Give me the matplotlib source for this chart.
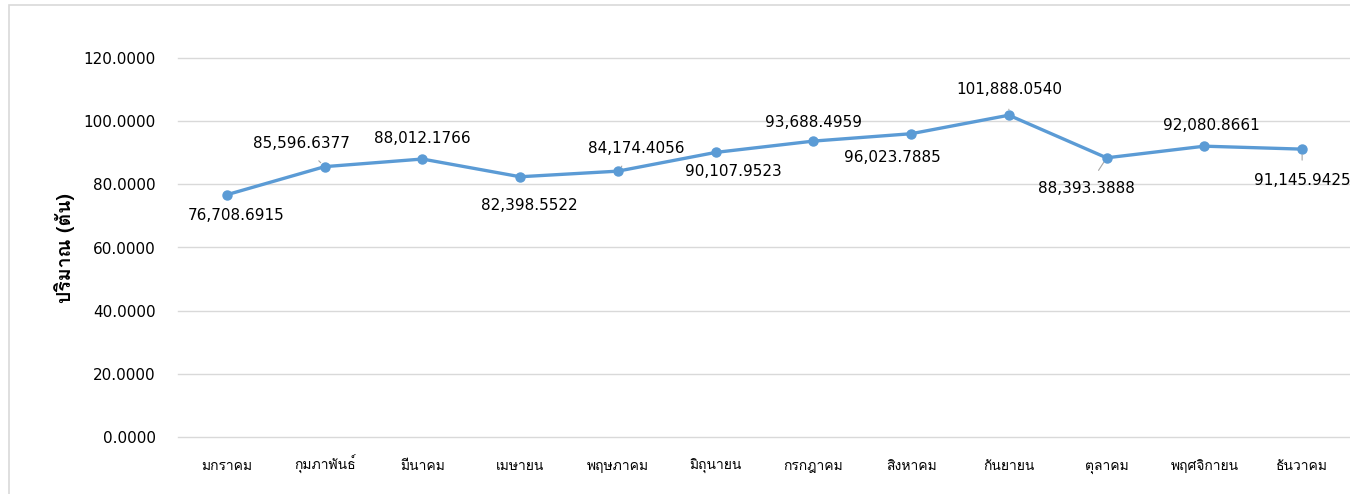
import matplotlib
matplotlib.use("Agg")
import matplotlib.pyplot as plt
from matplotlib import font_manager
from matplotlib.ft2font import FT2Font
from matplotlib.patches import Rectangle

months = ["มกราคม", "กุมภาพันธ์", "มีนาคม", "เมษายน", "พฤษภาคม", "มิถุนายน",
          "กรกฎาคม", "สิงหาคม", "กันยายน", "ตุลาคม", "พฤศจิกายน", "ธันวาคม"]
values = [76708.6915, 85596.6377, 88012.1766, 82398.5522, 84174.4056, 90107.9523,
          93688.4959, 96023.7885, 101888.0540, 88393.3888, 92080.8661, 91145.9425]
ylabel = "ปริมาณ (ตัน)"
yticks = [0, 20, 40, 60, 80, 100, 120]

# find a font that has Thai glyphs
thai_font = None
for f in font_manager.fontManager.ttflist:
    try:
        cm = FT2Font(f.fname).get_charmap()
        if 0x0E01 in cm and 0x0E21 in cm:
            thai_font = f.name
            break
    except Exception:
        pass
thai_fams = [thai_font or "DejaVu Sans", "DejaVu Sans"]
plt.rcParams["font.family"] = ["DejaVu Sans"] + ([thai_font] if thai_font else [])

fig = plt.figure(figsize=(13.5, 4.94), dpi=100)
W, H = 1350, 494
fig.patches.append(Rectangle((9 / W, -0.1), 1.2, 1.1 - 5 / H, transform=fig.transFigure,
                             fill=False, edgecolor="#d9d9d9", linewidth=1.2))
ax = fig.add_axes([178 / W, (H - 437) / H, (1351 - 178) / W, (437 - 58) / H])

x = list(range(len(months)))
yv = [v / 1000 for v in values]
ax.plot(x, yv, color="#5b9bd5", linewidth=2.4, marker="o", markersize=6.5, zorder=3)

ax.set_xlim(-0.5, len(months) - 0.5)
ax.set_ylim(0, 120)
ax.set_yticks(yticks)
ax.set_yticklabels([f"{t:.4f}" for t in yticks], fontsize=11)
ax.set_xticks(x)
ax.set_xticklabels(months, fontsize=10, family=thai_fams)
for lab in ax.get_xticklabels():
    lab.set_va("baseline")
ax.tick_params(axis="both", length=0, colors="#000000")
ax.tick_params(axis="y", pad=16)
ax.tick_params(axis="x", pad=24)
for s in ax.spines.values():
    s.set_visible(False)
ax.grid(axis="y", color="#d9d9d9", linewidth=1.0)
for gl in ax.get_ygridlines():
    gl.set_clip_on(False)
ax.set_axisbelow(True)
fig.text(65 / W, 1 - 248 / H, ylabel, rotation=90, ha="center", va="center",
         fontsize=14, fontweight="bold", family=thai_fams)

# label offsets in pixels (dx, dy) from point; leader flags
offsets = [(9, -21), (-23, 23), (0, 21), (9, -29), (18, 23), (18, -19),
           (0, 19), (-19, -24), (0, 26), (-20, -31), (7, 21), (0, -31)]
leaders = [False, True, False, False, True, False, False, False, True, True, False, True]
for i, (v, (dx, dy), ld) in enumerate(zip(values, offsets, leaders)):
    ax.annotate(f"{v:,.4f}", xy=(i, v / 1000), xytext=(dx * 0.72, dy * 0.72),
                textcoords="offset points", ha="center", va="center", fontsize=11,
                arrowprops=dict(arrowstyle="-", color="#a6a6a6", lw=0.8,
                                shrinkA=7, shrinkB=4) if ld else None)

fig.savefig("out.png", dpi=100)
